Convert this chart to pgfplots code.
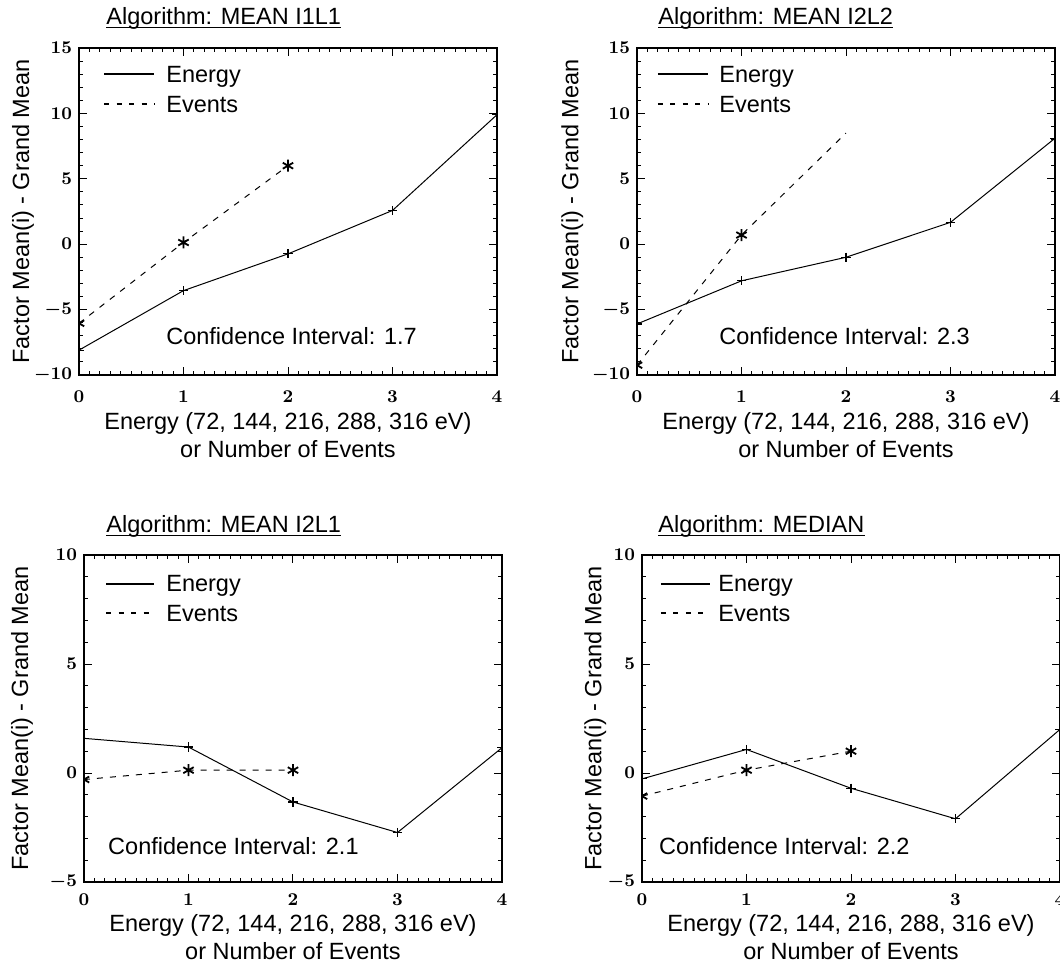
\documentclass[border=0pt]{standalone}
\usepackage{pgfplots}
\pgfplotsset{compat=1.18}
\usepackage{fontspec}
\setmainfont{Liberation Sans}
\newcommand{\lab}{\fontsize{11.75}{14}\selectfont}
\pgfplotsset{
  idl/.style={
    scale only axis, width=209pt, height=163.5pt,
    anchor=south west,
    xmin=0, xmax=4, xtick={0,1,2,3,4}, minor x tick num=9, minor y tick num=4,
    tick align=inside, tick pos=both,
    major tick length=4pt, minor tick length=2pt,
    axis line style={line width=0.6pt},
    every tick/.style={line width=0.5pt, black},
    tick label style={font=\boldmath\fontsize{9}{10}\selectfont},
    clip marker paths=true,
    xlabel={Energy (72, 144, 216, 288, 316 eV)\\or Number of Events},
    ylabel={Factor Mean(i) - Grand Mean},
    ylabel style={font=\lab, anchor=center},
    xlabel style={font=\lab, align=center, anchor=north, inner sep=0pt},
  },
  top/.style={ymin=-10, ymax=15, ytick={-10,-5,0,5,10,15}, xticklabel style={yshift=-4.5pt}},
  bot/.style={ymin=-5, ymax=10, ytick={-5,0,5,10}, xticklabel style={yshift=-2.5pt}},
  en/.style={black, line width=0.5pt, mark=+, mark size=2.3pt, mark options={solid, line width=0.6pt}},
  ev/.style={black, line width=0.5pt, dash pattern=on 3pt off 3.5pt, mark=asterisk, mark size=3pt, mark options={solid, line width=0.9pt}},
}
\begin{document}
\begin{tikzpicture}
\path[use as bounding box] (0,0) rectangle (530pt,485pt);

% ---------- top left
\begin{axis}[idl, top, at={(39.5pt,297.5pt)},
  xlabel style={at={(axis description cs:0.5,-0.113)}},
  ylabel style={at={(axis description cs:-0.134,0.5)}}]
\addplot[en] coordinates {(0,-8.1)(1,-3.55)(2,-0.74)(3,2.58)(4,9.9)};
\addplot[ev] coordinates {(0,-6.05)(1,0.13)(2,6.0)};
\draw[line width=1pt] (rel axis cs:0.06,0.92) -- (rel axis cs:0.18,0.92);
\draw[line width=1pt, dash pattern=on 2.5pt off 3.75pt] (rel axis cs:0.06,0.829) -- (rel axis cs:0.18,0.829);
\node[anchor=base west, font=\lab, inner sep=0pt] at (rel axis cs:0.208,0.896) {Energy};
\node[anchor=base west, font=\lab, inner sep=0pt] at (rel axis cs:0.208,0.804) {Events};
\node[anchor=base west, font=\lab, inner sep=0pt] at (rel axis cs:0.208,0.092) {Confidence Interval: 1.7};
\end{axis}

% ---------- top right
\begin{axis}[idl, top, at={(318.5pt,297.5pt)},
  xlabel style={at={(axis description cs:0.5,-0.113)}},
  ylabel style={at={(axis description cs:-0.155,0.5)}}]
\addplot[en] coordinates {(0,-6.1)(1,-2.8)(2,-1.0)(3,1.67)(4,8.1)};
\addplot[ev, mark indices={1,2}] coordinates {(0,-9.25)(1,0.7)(2,8.5)};
\draw[line width=1pt] (rel axis cs:0.05,0.92) -- (rel axis cs:0.17,0.92);
\draw[line width=1pt, dash pattern=on 2.5pt off 3.75pt] (rel axis cs:0.05,0.829) -- (rel axis cs:0.17,0.829);
\node[anchor=base west, font=\lab, inner sep=0pt] at (rel axis cs:0.196,0.896) {Energy};
\node[anchor=base west, font=\lab, inner sep=0pt] at (rel axis cs:0.196,0.804) {Events};
\node[anchor=base west, font=\lab, inner sep=0pt] at (rel axis cs:0.196,0.092) {Confidence Interval: 2.3};
\end{axis}

% ---------- bottom left
\begin{axis}[idl, bot, at={(42pt,44pt)},
  xlabel style={at={(axis description cs:0.5,-0.097)}},
  ylabel style={at={(axis description cs:-0.148,0.5)}}]
\addplot[en] coordinates {(0,1.59)(1,1.19)(2,-1.33)(3,-2.73)(4,1.16)};
\addplot[ev] coordinates {(0,-0.3)(1,0.13)(2,0.13)};
\draw[line width=1pt] (rel axis cs:0.053,0.911) -- (rel axis cs:0.167,0.911);
\draw[line width=1pt, dash pattern=on 2.5pt off 3.75pt] (rel axis cs:0.053,0.823) -- (rel axis cs:0.167,0.823);
\node[anchor=base west, font=\lab, inner sep=0pt] at (rel axis cs:0.196,0.887) {Energy};
\node[anchor=base west, font=\lab, inner sep=0pt] at (rel axis cs:0.196,0.798) {Events};
\node[anchor=base west, font=\lab, inner sep=0pt] at (rel axis cs:0.057,0.083) {Confidence Interval: 2.1};
\end{axis}

% ---------- bottom right
\begin{axis}[idl, bot, at={(321pt,44pt)},
  xlabel style={at={(axis description cs:0.5,-0.097)}},
  ylabel style={at={(axis description cs:-0.112,0.5)}}]
\addplot[en] coordinates {(0,-0.27)(1,1.08)(2,-0.7)(3,-2.1)(4,2.0)};
\addplot[ev] coordinates {(0,-1.06)(1,0.13)(2,1.0)};
\draw[line width=1pt] (rel axis cs:0.045,0.911) -- (rel axis cs:0.163,0.911);
\draw[line width=1pt, dash pattern=on 2.5pt off 3.75pt] (rel axis cs:0.045,0.823) -- (rel axis cs:0.163,0.823);
\node[anchor=base west, font=\lab, inner sep=0pt] at (rel axis cs:0.182,0.887) {Energy};
\node[anchor=base west, font=\lab, inner sep=0pt] at (rel axis cs:0.182,0.798) {Events};
\node[anchor=base west, font=\lab, inner sep=0pt] at (rel axis cs:0.04,0.083) {Confidence Interval: 2.2};
\end{axis}

% ---------- titles (underlined)
\foreach \x/\y/\t in {53pt/472.5pt/{Algorithm: MEAN I1L1}, 329pt/472.5pt/{Algorithm: MEAN I2L2}, 53pt/218.5pt/{Algorithm: MEAN I2L1}, 329pt/218.5pt/{Algorithm: MEDIAN}}{
  \node[anchor=base west, font=\lab, inner sep=0pt] (tt) at (\x,\y) {\t};
  \draw[line width=0.6pt] ([yshift=-1.3pt]tt.base west) -- ([yshift=-1.3pt]tt.base east);
}
\end{tikzpicture}
\end{document}
